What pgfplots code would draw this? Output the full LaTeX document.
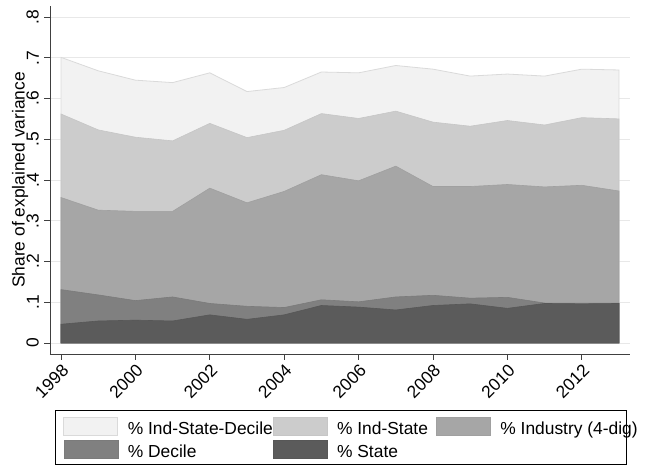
\documentclass[border=0pt]{standalone}
\usepackage{fontspec}
\setmainfont{Liberation Sans}
\usepackage{pgfplots}
\usepackage{pgfplotstable}
\pgfplotsset{compat=1.18}

\definecolor{cisd}{HTML}{F2F2F2}
\definecolor{cisdl}{HTML}{DADADA}
\definecolor{cis}{HTML}{CCCCCC}
\definecolor{cisl}{HTML}{C6C6C6}
\definecolor{cind}{HTML}{A6A6A6}
\definecolor{cindl}{HTML}{A0A0A0}
\definecolor{cdec}{HTML}{808080}
\definecolor{cdecl}{HTML}{7B7B7B}
\definecolor{cst}{HTML}{5B5B5B}
\definecolor{cstl}{HTML}{575757}

% upper edge of each stacked band
\pgfplotstableread{
year isd   is    ind   dec   st
1998 0.701 0.562 0.357 0.131 0.046
1999 0.668 0.523 0.326 0.118 0.054
2000 0.645 0.505 0.323 0.104 0.056
2001 0.639 0.496 0.323 0.113 0.054
2002 0.663 0.539 0.380 0.097 0.069
2003 0.617 0.504 0.344 0.090 0.058
2004 0.627 0.522 0.372 0.087 0.069
2005 0.665 0.563 0.413 0.106 0.092
2006 0.663 0.551 0.398 0.101 0.088
2007 0.681 0.569 0.434 0.113 0.081
2008 0.672 0.542 0.384 0.117 0.092
2009 0.655 0.532 0.384 0.110 0.096
2010 0.660 0.546 0.389 0.112 0.085
2011 0.655 0.535 0.383 0.098 0.097
2012 0.672 0.553 0.387 0.098 0.096
2013 0.670 0.550 0.373 0.098 0.097
}\shares

\begin{document}
\begin{tikzpicture}
\begin{axis}[
  scale only axis, width=580pt, height=348pt,
  xmin=1997.704, xmax=2013.296,
  ymin=-0.027, ymax=0.827,
  axis x line*=bottom, axis y line*=left,
  axis line style={black!75, line width=0.9pt},
  tick align=outside, major tick length=6pt,
  tick style={black!75, line width=0.9pt},
  font=\fontsize{17.4}{20}\selectfont,
  xtick={1998,2000,2002,2004,2006,2008,2010,2012},
  xticklabels={1998,2000,2002,2004,2006,2008,2010,2012},
  xticklabel style={rotate=45, anchor=north east, inner sep=2pt},
  ytick={0,0.1,0.2,0.3,0.4,0.5,0.6,0.7,0.8},
  yticklabels={0,.1,.2,.3,.4,.5,.6,.7,.8},
  yticklabel style={rotate=90, anchor=south, inner sep=5pt},
  ymajorgrids, grid style={black!9, line width=0.9pt},
  ylabel={Share of explained variance},
  every axis y label/.style={at={(axis description cs:-0.0517,0.5)}, rotate=90, anchor=center},
  legend columns=3,
  legend cell align=left,
  legend image code/.code={
    \path[draw=none, fill=none] (0pt,0pt) -- (64pt,0pt);
    \path[#1] (0pt,-9pt) rectangle (54pt,9pt);
  },
  legend style={at={(axis description cs:0.00862,-0.161)}, anchor=north west,
    draw=black, line width=0.8pt, inner xsep=8pt, inner ysep=6.5pt,
    row sep=4pt, column sep=0pt,
    font=\fontsize{17.4}{20}\selectfont,
    nodes={inner sep=0pt, text height=17pt, text depth=0.5pt}},
]
\addplot[fill=cisd, draw=cisdl, line width=0.8pt] table[x=year, y=isd] {\shares} \closedcycle;
\addlegendentry{\makebox[145pt][l]{\% Ind-State-Decile}}
\addplot[fill=cis, draw=cisl, line width=0.6pt] table[x=year, y=is] {\shares} \closedcycle;
\addlegendentry{\makebox[99pt][l]{\% Ind-State}}
\addplot[fill=cind, draw=cindl, line width=0.6pt] table[x=year, y=ind] {\shares} \closedcycle;
\addlegendentry{\makebox[118pt][l]{\% Industry (4-dig)}}
\addplot[fill=cdec, draw=cdecl, line width=0.6pt] table[x=year, y=dec] {\shares} \closedcycle;
\addlegendentry{\makebox[145pt][l]{\% Decile}}
\addplot[fill=cst, draw=cstl, line width=0.6pt] table[x=year, y=st] {\shares} \closedcycle;
\addlegendentry{\makebox[99pt][l]{\% State}}
\end{axis}
\pgfresetboundingbox
\useasboundingbox (-50pt,-116pt) rectangle (596pt,354pt);
\end{tikzpicture}
\end{document}
